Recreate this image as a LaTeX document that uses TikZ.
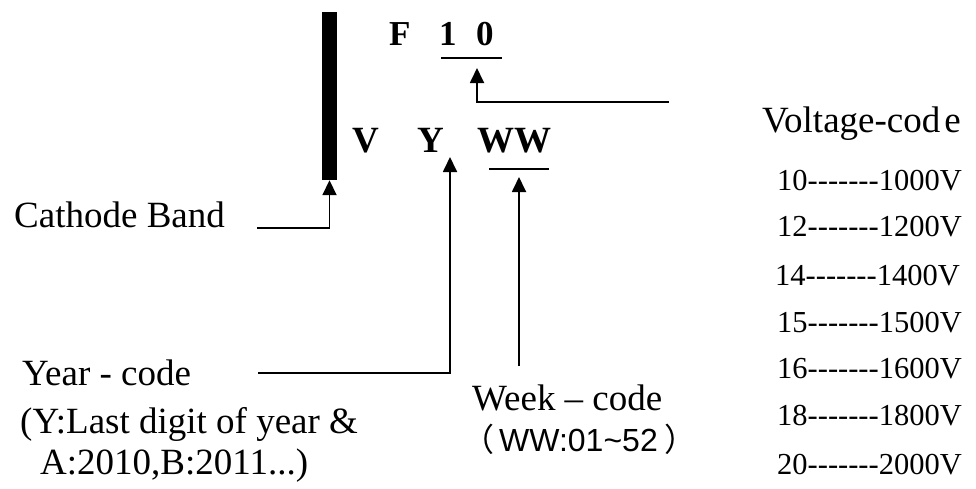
\documentclass[tikz,border=0pt]{standalone}
\usepackage{fontspec}
\setmainfont{Liberation Serif}
\newfontfamily\sansf{Liberation Sans}
\newfontfamily\cjk{Noto Sans CJK SC}
\usetikzlibrary{arrows.meta}
\begin{document}
\begin{tikzpicture}[x=1pt,y=-1pt,
  txt/.style={inner sep=0pt,anchor=base west,font=\fontsize{37}{40}\selectfont},
  vtxt/.style={inner sep=0pt,anchor=base west,font=\fontsize{30.5}{36}\selectfont},
  bigbold/.style={inner sep=0pt,anchor=base west,font=\fontsize{37}{40}\selectfont\bfseries},
  smbold/.style={inner sep=0pt,anchor=base west,font=\fontsize{35}{38}\selectfont\bfseries},
  band/.style={fill=black,draw=none,minimum width=15pt,minimum height=168pt,inner sep=0pt},
  conn/.style={line width=1.8pt,-{Triangle[length=15pt,width=14pt]}},
  uline/.style={line width=1.8pt}]
\useasboundingbox (0,0) rectangle (976,488);
% cathode band
\node[band] (band) at (329.5,96) {};
% top code
\node[smbold] (F) at (389,45) {F};
\node[smbold] (one) at (439,45) {1};
\node[smbold] (zero) at (476,45) {0};
\coordinate (ua) at (441,58);
\coordinate (ub) at (502,58);
\draw[uline] (ua) -- (ub);
% bottom code
\node[bigbold] (V) at (352,152) {V};
\node[bigbold] (Y) at (417,152) {Y};
\node[bigbold] (WW) at (477,152) {WW};
\coordinate (wa) at (489,169);
\coordinate (wb) at (549,169);
\draw[uline] (wa) -- (wb);
% labels
\node[txt] (cathode) at (14,227) {Cathode Band};
\node[txt] (year) at (22,385) {Year - code};
\node[txt] (year2) at (20,433) {(Y:Last digit of year \&};
\node[txt] (year3) at (40,474) {A:2010,B:2011...)};
\node[txt] (week) at (472,410) {Week – code};
\node[inner sep=0pt,anchor=base west,font=\fontsize{32}{36}\selectfont] (weekcode) at (462,451) {{\cjk （}\kern5pt{\sansf WW:01\char"007E 52}\kern7pt{\cjk ）}};
\node[txt] (vcode) at (762,132) {Voltage-cod\kern4pt e};
\node[vtxt] (r10) at (777,190) {10-{}-{}-{}-{}-{}-{}-1000V};
\node[vtxt] (r12) at (777,236) {12-{}-{}-{}-{}-{}-{}-1200V};
\node[vtxt] (r14) at (775,285) {14-{}-{}-{}-{}-{}-{}-1400V};
\node[vtxt] (r15) at (777,332) {15-{}-{}-{}-{}-{}-{}-1500V};
\node[vtxt] (r16) at (777,378) {16-{}-{}-{}-{}-{}-{}-1600V};
\node[vtxt] (r18) at (777,425) {18-{}-{}-{}-{}-{}-{}-1800V};
\node[vtxt] (r20) at (777,474) {20-{}-{}-{}-{}-{}-{}-2000V};
% connectors
\coordinate (cstart) at (257,228);
\draw[conn] (cstart) -| (band.south);
\coordinate (vstart) at (669,102);
\coordinate (vtip) at (477,68);
\draw[conn] (vstart) -| (vtip);
\coordinate (ystart) at (258,373);
\coordinate (ytip) at (450,157);
\draw[conn] (ystart) -| (ytip);
\coordinate (wstart) at (519,366);
\coordinate (wtip) at (519,177);
\draw[conn] (wstart) -- (wtip);
\end{tikzpicture}
\end{document}
